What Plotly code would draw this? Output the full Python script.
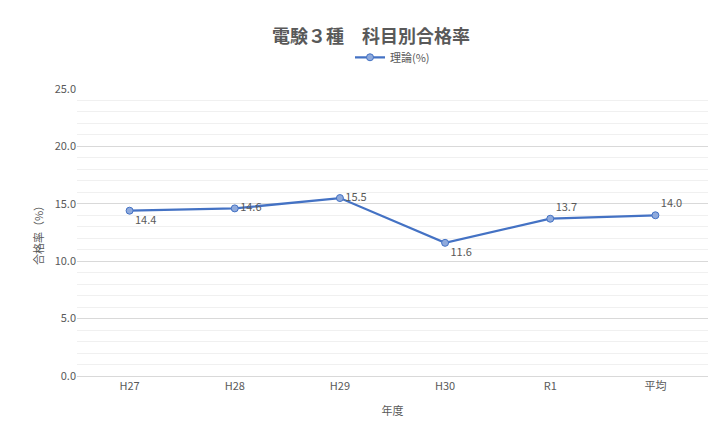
import plotly.graph_objs as go

years = ['H27', 'H28', 'H29', 'H30', 'R1', '平均']
riron = [14.4, 14.6, 15.5, 11.6, 13.7, 14.0]
label_pos = ['bottom right', 'middle right', 'middle right', 'bottom right', 'top right', 'top right']

FONT = 'Noto Sans CJK JP'
GREY = '#595959'

fig = go.Figure()
fig.add_trace(go.Scatter(x=years, y=riron, name='理論(%)', mode='lines+markers+text',
                         line=dict(color='#4472C4', width=2.25),
                         marker=dict(size=7, color='#8FAADC', line=dict(color='#4472C4', width=1)),
                         text=[f'{v:.1f}' for v in riron], textposition=label_pos,
                         textfont=dict(size=11, color=GREY)))

fig.update_xaxes(showgrid=False, linecolor='#d9d9d9', range=[-0.5, 5.5],
                 tickfont=dict(size=11, color=GREY),
                 title=dict(text='年度', font=dict(size=11, color=GREY)))
fig.update_yaxes(range=[0, 25], dtick=5, tickformat='.1f', gridcolor='#d9d9d9', zeroline=False,
                 minor=dict(dtick=1, showgrid=True, gridcolor='#f0f0f0'),
                 tickfont=dict(size=11, color=GREY),
                 title=dict(text='合格率（%）', font=dict(size=11, color=GREY), standoff=8))
fig.update_layout(width=726, height=445, font=dict(family=FONT), showlegend=True,
                  title=dict(text='<b>電験３種　科目別合格率</b>', x=0.5, y=0.95,
                             font=dict(size=18, color=GREY)),
                  legend=dict(orientation='h', x=0.5, xanchor='center', y=1.06, yanchor='bottom',
                              font=dict(size=11, color=GREY)),
                  plot_bgcolor='white', paper_bgcolor='white',
                  margin=dict(l=69, r=26, t=81, b=77))
fig.write_html('out.html')
